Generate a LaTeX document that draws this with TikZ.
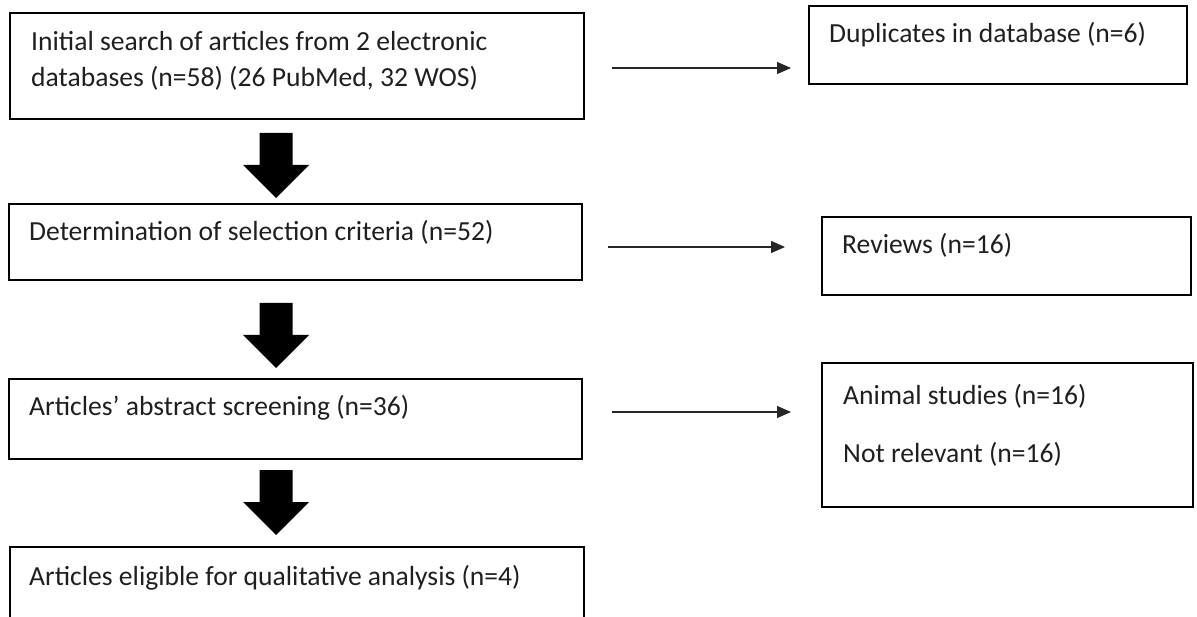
\documentclass[tikz,border=0pt]{standalone}
\usepackage{fontspec}
\setmainfont{Carlito}
\usetikzlibrary{arrows.meta,calc}
\newcommand\blockarr[2]{\fill[black] (#1-16.5,#2) -- (#1+16.5,#2) -- (#1+16.5,#2+32) -- (#1+33,#2+32) -- (#1,#2+65) -- (#1-33,#2+32) -- (#1-16.5,#2+32) -- cycle;}
\begin{document}
\begin{tikzpicture}[x=1pt,y=-1pt,
  box/.style={draw=black, line width=1.8pt, inner sep=0pt, anchor=north west},
  txt/.style={inner sep=0pt, anchor=base west, font=\fontsize{27.6}{33}\selectfont, text=black!88},
  link/.style={line width=1.2pt, draw=black!85, -{Triangle[length=14pt,width=12pt]}}
]
\useasboundingbox (0,0) rectangle (1197,617);
\clip (0,0) rectangle (1197,617);
% left column
\node[box, minimum width=574pt, minimum height=106pt] (A) at (9,12) {};
\node[txt] (tA1) at (31,51) {Initial search of articles from 2 electronic};
\node[txt] (tA2) at (31,87) {databases (n=58) (26 PubMed, 32 WOS)};
\node[box, minimum width=573pt, minimum height=76pt] (B) at (8,203) {};
\node[txt] (tB) at (29,241) {Determination of selection criteria (n=52)};
\node[box, minimum width=573pt, minimum height=80pt] (C) at (8,378) {};
\node[txt] (tC) at (29,416) {Articles’ abstract screening (n=36)};
\node[box, minimum width=574pt, minimum height=120pt] (D) at (9,546) {};
\node[txt] (tD) at (29,585) {Articles eligible for qualitative analysis (n=4)};
% block arrows
\blockarr{276}{133}
\blockarr{276}{303}
\blockarr{276}{470}
% right column
\node[box, minimum width=378pt, minimum height=78pt] (Dup) at (808,5) {};
\node[txt] (tDup) at (829,43) {Duplicates in database (n=6)};
\node[box, minimum width=369pt, minimum height=78pt] (Rev) at (821,216) {};
\node[txt] (tRev) at (842,254) {Reviews (n=16)};
\node[box, minimum width=371pt, minimum height=144pt] (Ani) at (821,362) {};
\node[txt] (tAni1) at (843,405) {Animal studies (n=16)};
\node[txt] (tAni2) at (843,462) {Not relevant (n=16)};
% thin arrows
\coordinate (s1) at (612,68);
\coordinate (s2) at (608,247);
\coordinate (s3) at (612,412);
\draw[link, shorten >=17pt] (s1) -- (s1 -| Dup.west);
\draw[link, shorten >=36pt] (s2) -- (s2 -| Rev.west);
\draw[link, shorten >=30pt] (s3) -- (s3 -| Ani.west);
\end{tikzpicture}
\end{document}
